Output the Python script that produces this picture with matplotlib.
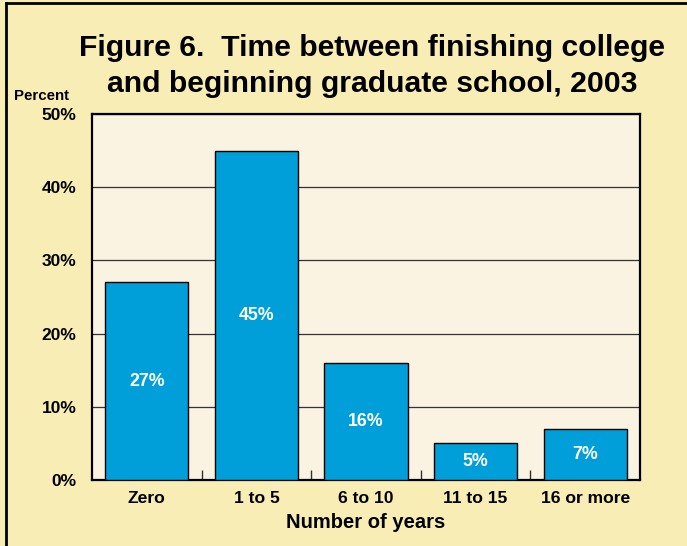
import numpy as np
import matplotlib.pyplot as plt
from matplotlib.lines import Line2D

categories = ["Zero", "1 to 5", "6 to 10", "11 to 15", "16 or more"]
percents = [27, 45, 16, 5, 7]
yticks = [0, 10, 20, 30, 40, 50]

plt.rcParams['font.family'] = ['Liberation Sans', 'DejaVu Sans']
plt.rcParams['font.weight'] = 'bold'

fig = plt.figure(figsize=(6.87, 5.46), dpi=100, facecolor='#f8eeb5')
ax = fig.add_axes([92 / 687, 1 - 480 / 546, 548 / 687, 366 / 546])
ax.set_facecolor('#faf3e2')

x = np.arange(len(categories))
ax.bar(x, percents, width=0.76, color='#009fda', edgecolor='black', linewidth=1.0, zorder=3)
for xi, p in zip(x, percents):
    ax.text(xi, p / 2, f"{p}%", ha='center', va='center', color='white',
            fontsize=12.8, fontweight='bold', zorder=4)

ax.set_xlim(-0.5, len(categories) - 0.5)
ax.set_ylim(0, 50)
ax.set_yticks(yticks)
ax.set_yticklabels([f"{t}%" for t in yticks], fontsize=12.5, fontweight='bold')
ax.yaxis.grid(True, color='#333333', linewidth=0.9, zorder=1)
ax.tick_params(axis='y', length=0, pad=11)

ax.set_xticks(x)
ax.set_xticklabels(categories, fontsize=12.6, fontweight='bold')
ax.tick_params(axis='x', length=0, pad=8)
ax.set_xticks(x[:-1] + 0.5, minor=True)
ax.tick_params(axis='x', which='minor', direction='in', length=7, width=1, color='#333333')

for s in ax.spines.values():
    s.set_linewidth(1.6)
    s.set_color('black')

ax.set_xlabel("Number of years", fontsize=14.5, fontweight='bold', labelpad=5)
fig.text(14 / 687, 1 - 96 / 546, "Percent", fontsize=10.8, fontweight='bold', va='center', ha='left')
fig.text(372 / 687, 1 - 48 / 546, "Figure 6.  Time between finishing college",
         fontsize=21.7, fontweight='bold', ha='center', va='center')
fig.text(372 / 687, 1 - 84 / 546, "and beginning graduate school, 2003",
         fontsize=21.7, fontweight='bold', ha='center', va='center')

# outer frame (left and top edges)
fig.add_artist(Line2D([6 / 687, 6 / 687], [0, 1 - 3 / 546], color='black', linewidth=2,
                      transform=fig.transFigure))
fig.add_artist(Line2D([6 / 687, 1], [1 - 3 / 546, 1 - 3 / 546], color='black', linewidth=2,
                      transform=fig.transFigure))

fig.savefig("out.png", dpi=100, facecolor=fig.get_facecolor())
